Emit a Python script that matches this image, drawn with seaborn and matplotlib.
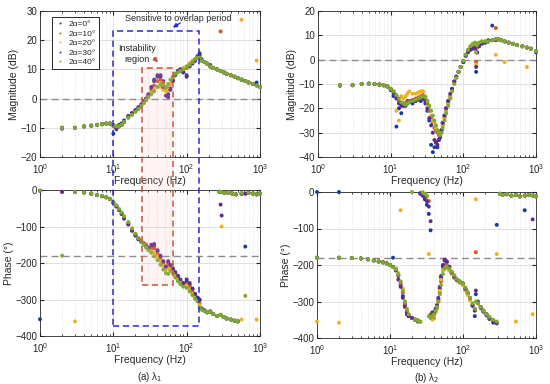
import numpy as np
import pandas as pd
import matplotlib
matplotlib.use("Agg")
import matplotlib.pyplot as plt
from matplotlib.patches import Rectangle
import seaborn as sns

sns.set_style("ticks")
plt.rcParams["font.family"] = ["Liberation Sans", "DejaVu Sans"]
plt.rcParams["mathtext.fontset"] = "dejavusans"

# series labels and colours
labels = ["2α=0°", "2α=10°", "2α=20°", "2α=30°", "2α=40°"]
colors = ["#1a3aa0", "#D95319", "#EDB120", "#5e2a8e", "#77AC30"]

# ---- (a) lambda_1 magnitude (dB)
f_mag1 = [2, 3, 4, 5, 6, 7, 8, 9, 10, 11, 12, 13, 14, 16, 18, 20, 22, 24, 26, 28, 30,
          33, 36, 40, 44, 48, 52, 56, 60, 65, 70, 76, 82, 90, 100, 110, 120, 130, 140, 150,
          160, 175, 190, 210, 230, 260, 290, 320, 350, 400, 450, 500, 560, 630, 700, 800, 900, 1000]
mag1_a0 = [-10.3, -10, -9.6, -9.2, -9, -8.7, -8.5, -8.6, -12, -10.5, -9, -8.5, -7.5,
           -6, -5, -4, -3, -2.5, -1, 0, 1, 3.5, 6, 7.5, 8, 6, 3, 1.5, 3.5,
           6.5, 8.5, 9.5, 9.5, 9, 7.5, 12, 12.5, 13, 14, 15.5,
           13, 12.5, 12, 11.5, 10.5, 10, 9.5, 9, 8.5, 8, 7.5, 7, 6.5, 6, 5.5, 5, 5.5, 4]
mag1_a10 = [-10, -10, -9.5, -9.3, -9, -8.8, -8.6, -8.5, -9.5, -10, -9.5, -9, -8,
            -6.5, -5.5, -4, -3.5, -2.5, -1.5, -0.5, 1, 2.5, 4.5, 6, 6.5, 5.5, 4, 3.5, 5,
            7, 8.5, 9.5, 10, 10, 10.5, 11.5, 12.5, 13, 14, 14.5,
            13, 12.5, 12, 11, 10.5, 10, 23, 9, 8.5, 8, 7.5, 7, 6.5, 6, 5.5, 5, 4.5, 4]
mag1_a20 = [-10, -10, -9.5, -9.3, -9, -8.8, -8.6, -8.5, -9.2, -9.8, -9.5, -9, -8,
            -6.5, -5.5, -4.5, -3.5, -2.5, -1.5, -0.5, 0.5, 2, 3, 4, 4, 3, 2.5, 3, 5,
            7, 8.5, 9.5, 10, 10.5, 11, 12, 13, 13.5, 14, 14.5,
            13, 12.5, 12, 11, 10.5, 10, 9.5, 9, 8.5, 8, 7.5, 7, 27, 6, 5.5, 5, 13, 4]
mag1_a30 = [-10, -10, -9.5, -9.3, -9, -8.8, -8.6, -8.5, -9, -10, -9.5, -9, -8,
            -6, -5, -4, -3, -2, -1, 0, 1.5, 4, 6.5, 8, 7.5, 4, 1, 0.5, 3,
            6, 8, 9.5, 10, 9, 8, 11, 12, 13, 14.5, 15,
            13.5, 12.5, 12, 11, 10.5, 10, 9.5, 9, 8.5, 8, 7.5, 7, 6.5, 6, 5.5, 5, 4.5, 4]
mag1_a40 = [-10, -10, -9.5, -9.3, -9, -8.8, -8.6, -8.5, -9, -9.5, -9.5, -9, -8,
            -6.5, -5.5, -4.5, -3.5, -2.5, -1.5, -0.5, 0.5, 1.5, 2.5, 4, 5, 4.5, 4, 5, 6.5,
            7.5, 8.5, 9, 9.5, 10, 11, 11.5, 12.5, 13.5, 14, 14,
            13, 12.5, 12, 11, 10.5, 10, 9.5, 9, 8.5, 8, 7.5, 7, 6.5, 6, 5.5, 5, 4.5, 4]

# ---- (a) lambda_1 phase (deg)
f_ph1 = [1, 2, 3, 4, 5, 6, 7, 8, 9, 10, 11, 12, 13, 14, 16, 18, 20, 22, 24, 26, 28, 30,
         33, 36, 40, 44, 48, 52, 56, 60, 65, 70, 76, 82, 90, 100, 110, 120, 130, 140, 150,
         160, 175, 190, 210, 230, 260, 290, 320, 350, 400, 450, 500,
         560, 630, 700, 800, 900, 1000, 280, 300, 330, 370, 420, 470]
ph1_a0 = [-354, -5, -5, -7, -10, -14, -17, -20, -25, -35, -45, -55, -65, -78,
          -92, -110, -122, -133, -140, -146, -152, -158,
          -155, -152, -168, -183, -198, -212, -200, -207,
          -218, -228, -238, -248, -256, -250, -260, -272, -285, -295, -302,
          -325, -330, -335, -333, -340, -345, -342, -348, -352, -355, -358, -360,
          -10, -155, -8, -10, -12, -10, -5, -6, -8, -7, -10, -12]
ph1_a10 = [-2, -5, -5, -7, -10, -14, -17, -20, -25, -34, -44, -54, -64, -75,
           -92, -108, -122, -133, -140, -145, -150, -158,
           -162, -160, -175, -190, -205, -215, -205, -212,
           -222, -232, -242, -250, -260, -258, -265, -278, -290, -298, -310,
           -326, -331, -335, -333, -340, -345, -342, -348, -352, -355, -358, -360,
           -10, -10, -8, -10, -12, -10, -5, -6, -8, -7, -10, -12]
ph1_a20 = [-2, -5, -360, -7, -10, -14, -17, -20, -25, -34, -44, -54, -64, -75,
           -90, -108, -120, -132, -140, -147, -155, -162,
           -168, -172, -182, -195, -208, -220, -215, -218,
           -225, -236, -246, -254, -262, -262, -272, -284, -294, -302, -315,
           -327, -331, -335, -333, -340, -345, -342, -348, -352, -355, -358, -360,
           -355, -10, -8, -10, -355, -10, -5, -100, -8, -7, -10, -12]
ph1_a30 = [-2, -5, -5, -7, -10, -14, -17, -20, -25, -35, -45, -55, -66, -78,
           -95, -112, -125, -135, -142, -148, -155, -160,
           -150, -148, -165, -180, -195, -210, -195, -205,
           -215, -225, -235, -245, -255, -245, -255, -270, -285, -295, -300,
           -325, -330, -335, -333, -340, -345, -40, -348, -352, -355, -358, -360,
           -10, -10, -8, -10, -12, -10, -5, -70, -8, -7, -10, -12]
ph1_a40 = [-2, -180, -5, -7, -10, -14, -17, -20, -25, -33, -42, -52, -62, -72,
           -88, -105, -120, -132, -142, -150, -158, -165,
           -172, -182, -192, -205, -218, -228, -230, -222,
           -228, -240, -250, -258, -265, -268, -278, -288, -298, -305, -322,
           -328, -332, -335, -333, -340, -345, -342, -348, -352, -355, -358, -360,
           -8, -290, -8, -10, -12, -10, -5, -6, -8, -7, -10, -12]

# ---- (b) lambda_2 magnitude (dB)
f_mag2 = [2, 3, 4, 5, 6, 7, 8, 9, 10, 11, 12, 13, 14, 15, 16, 17, 18,
          20, 22, 24, 26, 28, 30, 32, 34, 36, 38, 40, 42, 44, 46, 48, 50, 52, 55, 58,
          62, 66, 70, 75, 80, 86, 92, 100, 108, 116, 125, 135, 145, 150, 155, 165,
          180, 200, 220, 250, 280, 300, 330, 370, 420, 480, 550, 650, 750, 850, 1000]
mag2_a0 = [-10.7, -10.4, -10, -9.9, -10, -10.3, -10.6, -11, -12.5,
           -15, -27.5, -20, -22, -18, -19, -17, -17,
           -18, -17, -16, -17, -16, -18, -21, -25, -35, -38, -36,
           -34, -36, -33, -31, -29, -26, -23, -20,
           -17, -15, -12, -9, -7, -5, -3, -1,
           2, 3.5, 4.5, 5, 5, -5, 3, 6,
           7, 7, 8, 14, 8.5, 8.5,
           8, 7.5, 7, 6.5, 6, 5.5, 5, 4.5, 3]
mag2_a10 = [-10.5, -10.5, -10, -9.8, -10, -10.2, -10.5, -11, -12,
            -13.5, -15, -17, -18, -18.5, -18, -17.5, -17,
            -16.5, -16, -15.5, -15, -14.5, -16, -18, -21, -24, -26, -28,
            -29, -30, -31, -31, -29, -27, -24, -21,
            -18, -15, -12, -9, -7, -5, -3, -0.5,
            2, 4, 5, 6, 6.5, -1, 5, 6.5,
            7, 7.5, 7.5, 8, 13, 8.5,
            8, 7.5, 7, 6.5, 6, 5.5, 5, 4.5, 3.5]
mag2_a20 = [-10.5, -10.5, -10, -9.8, -10, -10.2, -10.5, -11, -12,
            -13, -21, -25, -15, -16, -15, -14, -13,
            -14, -14, -13.5, -13, -13, -15, -17, -20, -23, -25, -26,
            -28, -29, -30, -31, -30, -27, -24, -21,
            -18, -15, -12, -9, -7, -5, -3, -0.5,
            2, 4, 5.5, 6.5, 7, -2, 6, 7,
            7.5, 7.5, 7.5, 8, 2, 8,
            8, -1, 7, 6.5, 6, 5.5, -3, 4.5, 3.5]
mag2_a30 = [-10.5, -10.5, -10, -9.8, -10, -10.2, -10.5, -11, -12,
            -14, -16, -18, -19, -19, -18.5, -18, -17.5,
            -17, -17, -16.5, -16, -16, -17, -20, -24, -27, -30, -33,
            -34, -35, -33, -32, -29, -26, -23, -20,
            -17, -14, -12, -9, -7, -5, -3, -1,
            1.5, 3, 4, 4.5, 4.5, -3, 3, 5.5,
            6.5, 7, 7.5, 8, 8, 8.5,
            8, 7.5, 7, 6.5, 6, 5.5, 5, 4.5, 3.5]
mag2_a40 = [-10.5, -10.5, -10, -9.8, -10, -10.2, -10.5, -11, -12,
            -13, -14.5, -16, -17.5, -18, -18.5, -18, -17.5,
            -17, -16.5, -16, -15.5, -15, -15.5, -17, -19, -21, -23, -25,
            -27, -29, -30, -31, -30, -28, -25, -22,
            -19, -16, -13, -10, -7.5, -5, -3, -0.5,
            2, 4, 5.5, 6.5, 7, 3, 6, 7,
            7.5, 7.5, 7.5, 8, 8.5, 8.5,
            8, 7.5, 7, 6.5, 6, 5.5, 5, 4.5, 3.5]

# ---- (b) lambda_2 phase (deg)
f_ph2 = [1, 2, 3, 4, 5, 6, 7, 8, 9, 10, 11, 12, 13, 14, 15, 16, 17, 18,
         20, 22, 24, 26, 28, 30, 32, 34, 36, 38, 40, 42, 44, 46, 48, 50, 53, 56,
         60, 65, 70, 76, 82, 90, 100, 108, 116, 125, 135, 145, 150, 160,
         175, 190, 210, 230, 260, 290, 320, 350, 400, 460, 530, 600, 700, 800, 900, 1000]
ph2_a0 = [0, 0, -181, -182, -185, -188, -191, -193, -196, -200,
          -180, -210, -230, -255, -285, -310, -330, -340,
          -345, -350, -355, -3, -8, -20, -35, -60, -105, -330, -335,
          -325, -315, -295, -265, -235, -205, -188,
          -192, -205, -222, -235, -242, -248, -255,
          -268, -280, -295, -312, -340, -280, -305,
          -318, -328, -338, -348, -358, -90,
          -5, -8, -6, -10, -8, -12, -50, -8, -10, -12]
ph2_a10 = [-180, -180, -181, -182, -184, -187, -190, -193, -196, -200,
           -205, -212, -228, -250, -275, -305, -325, -338,
           -345, -350, -353, -356, -3, -6, -12, -25, -335, -342, -345,
           -330, -318, -300, -275, -245, -215, -200,
           -200, -212, -222, -232, -240, -246, -252,
           -265, -278, -292, -308, -320, -165, -305,
           -315, -325, -335, -345, -352, -358,
           -5, -8, -6, -10, -8, -12, -10, -8, -10, -12]
ph2_a20 = [-355, -358, -181, -182, -184, -187, -190, -193, -196, -200,
           -205, -210, -222, -50, -265, -300, -320, -335,
           -345, -348, -352, -356, 0, -5, -15, -170, -345, -350, -340,
           -330, -320, -300, -270, -240, -215, -205,
           -208, -215, -225, -235, -242, -248, -256,
           -270, -282, -296, -310, -325, -20, -305,
           -315, -325, -335, -345, -352, -170,
           -5, -8, -6, -10, -355, -12, -10, -8, -335, -12]
ph2_a30 = [-180, -180, -181, -182, -184, -187, -190, -192, -195, -200,
           -205, -215, -240, -260, -290, -315, -335, -340,
           -345, -350, -352, -5, -10, -15, -25, -40, -80, -335, -330,
           -320, -310, -290, -260, -230, -200, -185,
           -190, -205, -220, -232, -240, -245, -250,
           -265, -275, -290, -310, -325, -270, -300,
           -315, -325, -335, -345, -355, -360,
           -5, -8, -6, -10, -8, -12, -10, -8, -75, -12]
ph2_a40 = [-180, -180, -181, -182, -184, -187, -190, -193, -196, -200,
           -206, -212, -225, -245, -270, -300, -320, -335,
           0, -350, -352, -355, -2, -5, -10, -340, -345, -340, -335,
           -325, -315, -300, -280, -255, -225, -210,
           -205, -210, -218, -228, -238, -245, -250,
           -262, -275, -290, -305, -320, -300, -305,
           -315, -325, -335, -342, -350, -355,
           -5, -8, -6, -10, -8, -12, -10, -8, -10, -12]


def long_form(freq, series):
    frames = []
    for lab, vals in zip(labels, series):
        frames.append(pd.DataFrame({"f": freq, "v": vals, "case": lab}))
    return pd.concat(frames, ignore_index=True)


df_mag1 = long_form(f_mag1, [mag1_a0, mag1_a10, mag1_a20, mag1_a30, mag1_a40])
df_ph1 = long_form(f_ph1, [ph1_a0, ph1_a10, ph1_a20, ph1_a30, ph1_a40])
df_mag2 = long_form(f_mag2, [mag2_a0, mag2_a10, mag2_a20, mag2_a30, mag2_a40])
df_ph2 = long_form(f_ph2, [ph2_a0, ph2_a10, ph2_a20, ph2_a30, ph2_a40])

W, H = 550, 384
fig = plt.figure(figsize=(W / 100, H / 100), dpi=100)


def px_axes(x0, x1, y0, y1):
    return fig.add_axes([x0 / W, 1 - y1 / H, (x1 - x0) / W, (y1 - y0) / H])


ax_m1 = px_axes(40, 260, 11, 157)
ax_m2 = px_axes(318, 536, 11, 157)
ax_p1 = px_axes(40, 260, 190, 336)
ax_p2 = px_axes(317, 536, 192, 338)

pal = dict(zip(labels, colors))
panels = [
    (ax_m1, df_mag1, (-20, 30), np.arange(-20, 31, 10), 0, "Magnitude (dB)", True),
    (ax_m2, df_mag2, (-40, 20), np.arange(-40, 21, 10), 0, "Magnitude (dB)", False),
    (ax_p1, df_ph1, (-400, 0), np.arange(-400, 1, 100), -180, "Phase (°)", False),
    (ax_p2, df_ph2, (-400, 0), np.arange(-400, 1, 100), -180, "Phase (°)", False),
]

for ax, d, ylim, yt, ref, ylab, show_leg in panels:
    ax.set_xscale("log")
    ax.grid(True, which="major", color="#dcdcdc", lw=0.6)
    ax.grid(True, which="minor", axis="x", color="#d6d6d6", lw=0.5, ls=":")
    ax.set_axisbelow(True)
    ax.axhline(ref, color="#8c8c8c", ls=(0, (5, 3)), lw=1.0, zorder=1)
    sns.scatterplot(data=d, x="f", y="v", hue="case", palette=pal, s=8,
                    linewidth=0, ax=ax, legend=show_leg, zorder=3, clip_on=False)
    ax.set_xlim(1, 1000)
    ax.set_ylim(*ylim)
    ax.set_yticks(yt)
    ax.set_xlabel("Frequency (Hz)", fontsize=7.5, labelpad=0.5)
    ax.set_ylabel(ylab, fontsize=7.5, labelpad=1)
    ax.tick_params(which="both", direction="in", labelsize=7, colors="#262626",
                   top=True, right=True)
    ax.tick_params(axis="x", which="both", pad=3.5)
    ax.tick_params(axis="y", which="both", pad=2)
    ax.tick_params(which="major", length=3)
    ax.tick_params(which="minor", length=1.5)
    for sp in ax.spines.values():
        sp.set_color("#262626")
        sp.set_linewidth(0.6)

leg = ax_m1.legend(loc="upper left", bbox_to_anchor=(0.035, 0.985), fontsize=6,
                   frameon=True, fancybox=False, edgecolor="#262626", framealpha=1,
                   handletextpad=0.5, borderpad=0.35, labelspacing=0.2,
                   handlelength=1.2, markerscale=0.5)
leg.get_frame().set_linewidth(0.7)

fig.text(150 / W, 1 - 377 / H, "(a) λ$_1$", ha="center", va="center", fontsize=7)
fig.text(427 / W, 1 - 378 / H, "(b) λ$_2$", ha="center", va="center", fontsize=7)

# figure-level boxes spanning magnitude and phase plots
inv = fig.transFigure.inverted()


def fig_xy(ax, x, y):
    return inv.transform(ax.transData.transform((x, y)))


def span_box(x0, x1, y_top, y_bot, color, fill):
    p0 = fig_xy(ax_p1, x0, y_bot)
    p1 = fig_xy(ax_m1, x1, y_top)
    if fill:
        fig.add_artist(Rectangle(p0, p1[0] - p0[0], p1[1] - p0[1], transform=fig.transFigure,
                                 facecolor="#ffb0b8", alpha=0.15, edgecolor="none", zorder=4))
    fig.add_artist(Rectangle(p0, p1[0] - p0[0], p1[1] - p0[1], transform=fig.transFigure,
                             facecolor="none", edgecolor=color, lw=1.1,
                             ls=(0, (4, 2.5)), zorder=5))


span_box(10, 149, 23.2, -372, "#2a2ad0", False)
span_box(24.3, 64.5, 10.6, -260, "#c8553a", True)

ax_m1.text(76, 27.6, "Sensitive to overlap period", ha="center", va="center", fontsize=6.5)
ax_m1.annotate("", xy=(60, 23.8), xytext=(88, 26.4), annotation_clip=False,
               arrowprops=dict(arrowstyle="-|>", color="#2a2ad0", lw=1.0,
                               mutation_scale=6))
ax_m1.text(21, 15.2, "Instability\nregion", ha="center", va="center", fontsize=6.5,
           linespacing=1.3)
ax_m1.annotate("", xy=(43, 11.6), xytext=(34, 14.6), annotation_clip=False,
               arrowprops=dict(arrowstyle="-|>", color="#c8553a", lw=1.2,
                               mutation_scale=6))

fig.savefig("out.png", dpi=100)
